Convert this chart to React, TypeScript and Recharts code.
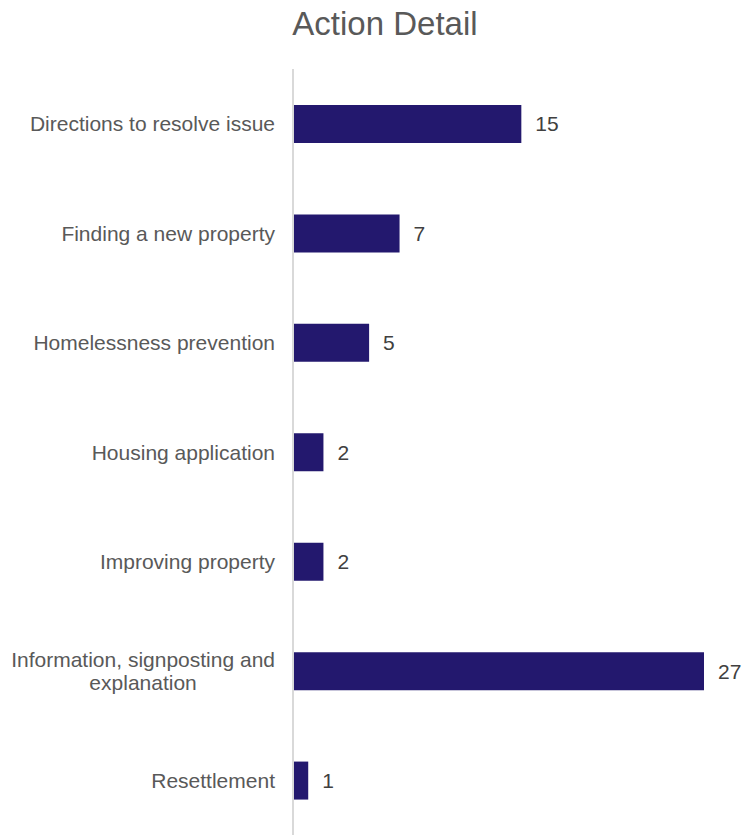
import { BarChart, Bar, XAxis, YAxis, LabelList } from "recharts";

const categories = [
  "Directions to resolve issue",
  "Finding a new property",
  "Homelessness prevention",
  "Housing application",
  "Improving property",
  "Information, signposting and explanation",
  "Resettlement",
];
const counts = [15, 7, 5, 2, 2, 27, 1];

const chartData = categories.map((name, i) => ({ name, count: counts[i] }));

const FONT = "'Liberation Sans', Arial, sans-serif";
const LABEL_SIZE = 21;
const LINE_H = 23;
const LABEL_RIGHT = 275;

let ctx: CanvasRenderingContext2D | null = null;
function measure(s: string): number {
  if (!ctx) ctx = document.createElement("canvas").getContext("2d");
  if (!ctx) return s.length * 10;
  ctx.font = `${LABEL_SIZE}px 'Liberation Sans', Arial, sans-serif`;
  return ctx.measureText(s).width;
}

function wrapLabel(label: string, maxWidth: number): string[] {
  const words = label.split(" ");
  const lines: string[] = [];
  let cur = "";
  for (const w of words) {
    const next = cur ? `${cur} ${w}` : w;
    if (cur && measure(next) > maxWidth) {
      lines.push(cur);
      cur = w;
    } else {
      cur = next;
    }
  }
  if (cur) lines.push(cur);
  return lines;
}

// multi-line labels are centred as a block that ends at LABEL_RIGHT
function CategoryTick(props: any) {
  const { y, payload } = props;
  const lines = wrapLabel(payload.value, 268);
  const first = y + 7.5 - ((lines.length - 1) * LINE_H) / 2;
  const widest = Math.max(...lines.map(measure));
  const multi = lines.length > 1;
  const x = multi ? LABEL_RIGHT - widest / 2 : LABEL_RIGHT;
  return (
    <text
      x={x}
      y={first}
      textAnchor={multi ? "middle" : "end"}
      fill="#595959"
      fontSize={LABEL_SIZE}
      fontFamily={FONT}
    >
      {lines.map((line, i) => (
        <tspan key={i} x={x} dy={i === 0 ? 0 : LINE_H}>
          {line}
        </tspan>
      ))}
    </text>
  );
}

export default function App() {
  return (
    <div
      style={{
        position: "absolute",
        left: 0,
        top: 0,
        width: 744,
        height: 835,
        background: "#fff",
        fontFamily: FONT,
      }}
    >
      <div
        style={{
          position: "absolute",
          left: 193,
          top: 7,
          width: 384,
          textAlign: "center",
          fontSize: 33,
          lineHeight: "33px",
          color: "#595959",
        }}
      >
        Action Detail
      </div>
      <BarChart
        width={744}
        height={835}
        data={chartData}
        layout="vertical"
        margin={{ top: 69, right: 40, left: 0, bottom: 0 }}
      >
        <XAxis type="number" domain={[0, 27]} hide />
        <YAxis
          type="category"
          dataKey="name"
          width={293}
          tickLine={false}
          axisLine={{ stroke: "#d9d9d9", strokeWidth: 2 }}
          tick={<CategoryTick />}
          interval={0}
        />
        <Bar dataKey="count" fill="#23186e" barSize={38} isAnimationActive={false}>
          <LabelList
            dataKey="count"
            position="right"
            offset={14}
            fill="#404040"
            fontSize={21}
            fontFamily={FONT}
          />
        </Bar>
      </BarChart>
    </div>
  );
}
